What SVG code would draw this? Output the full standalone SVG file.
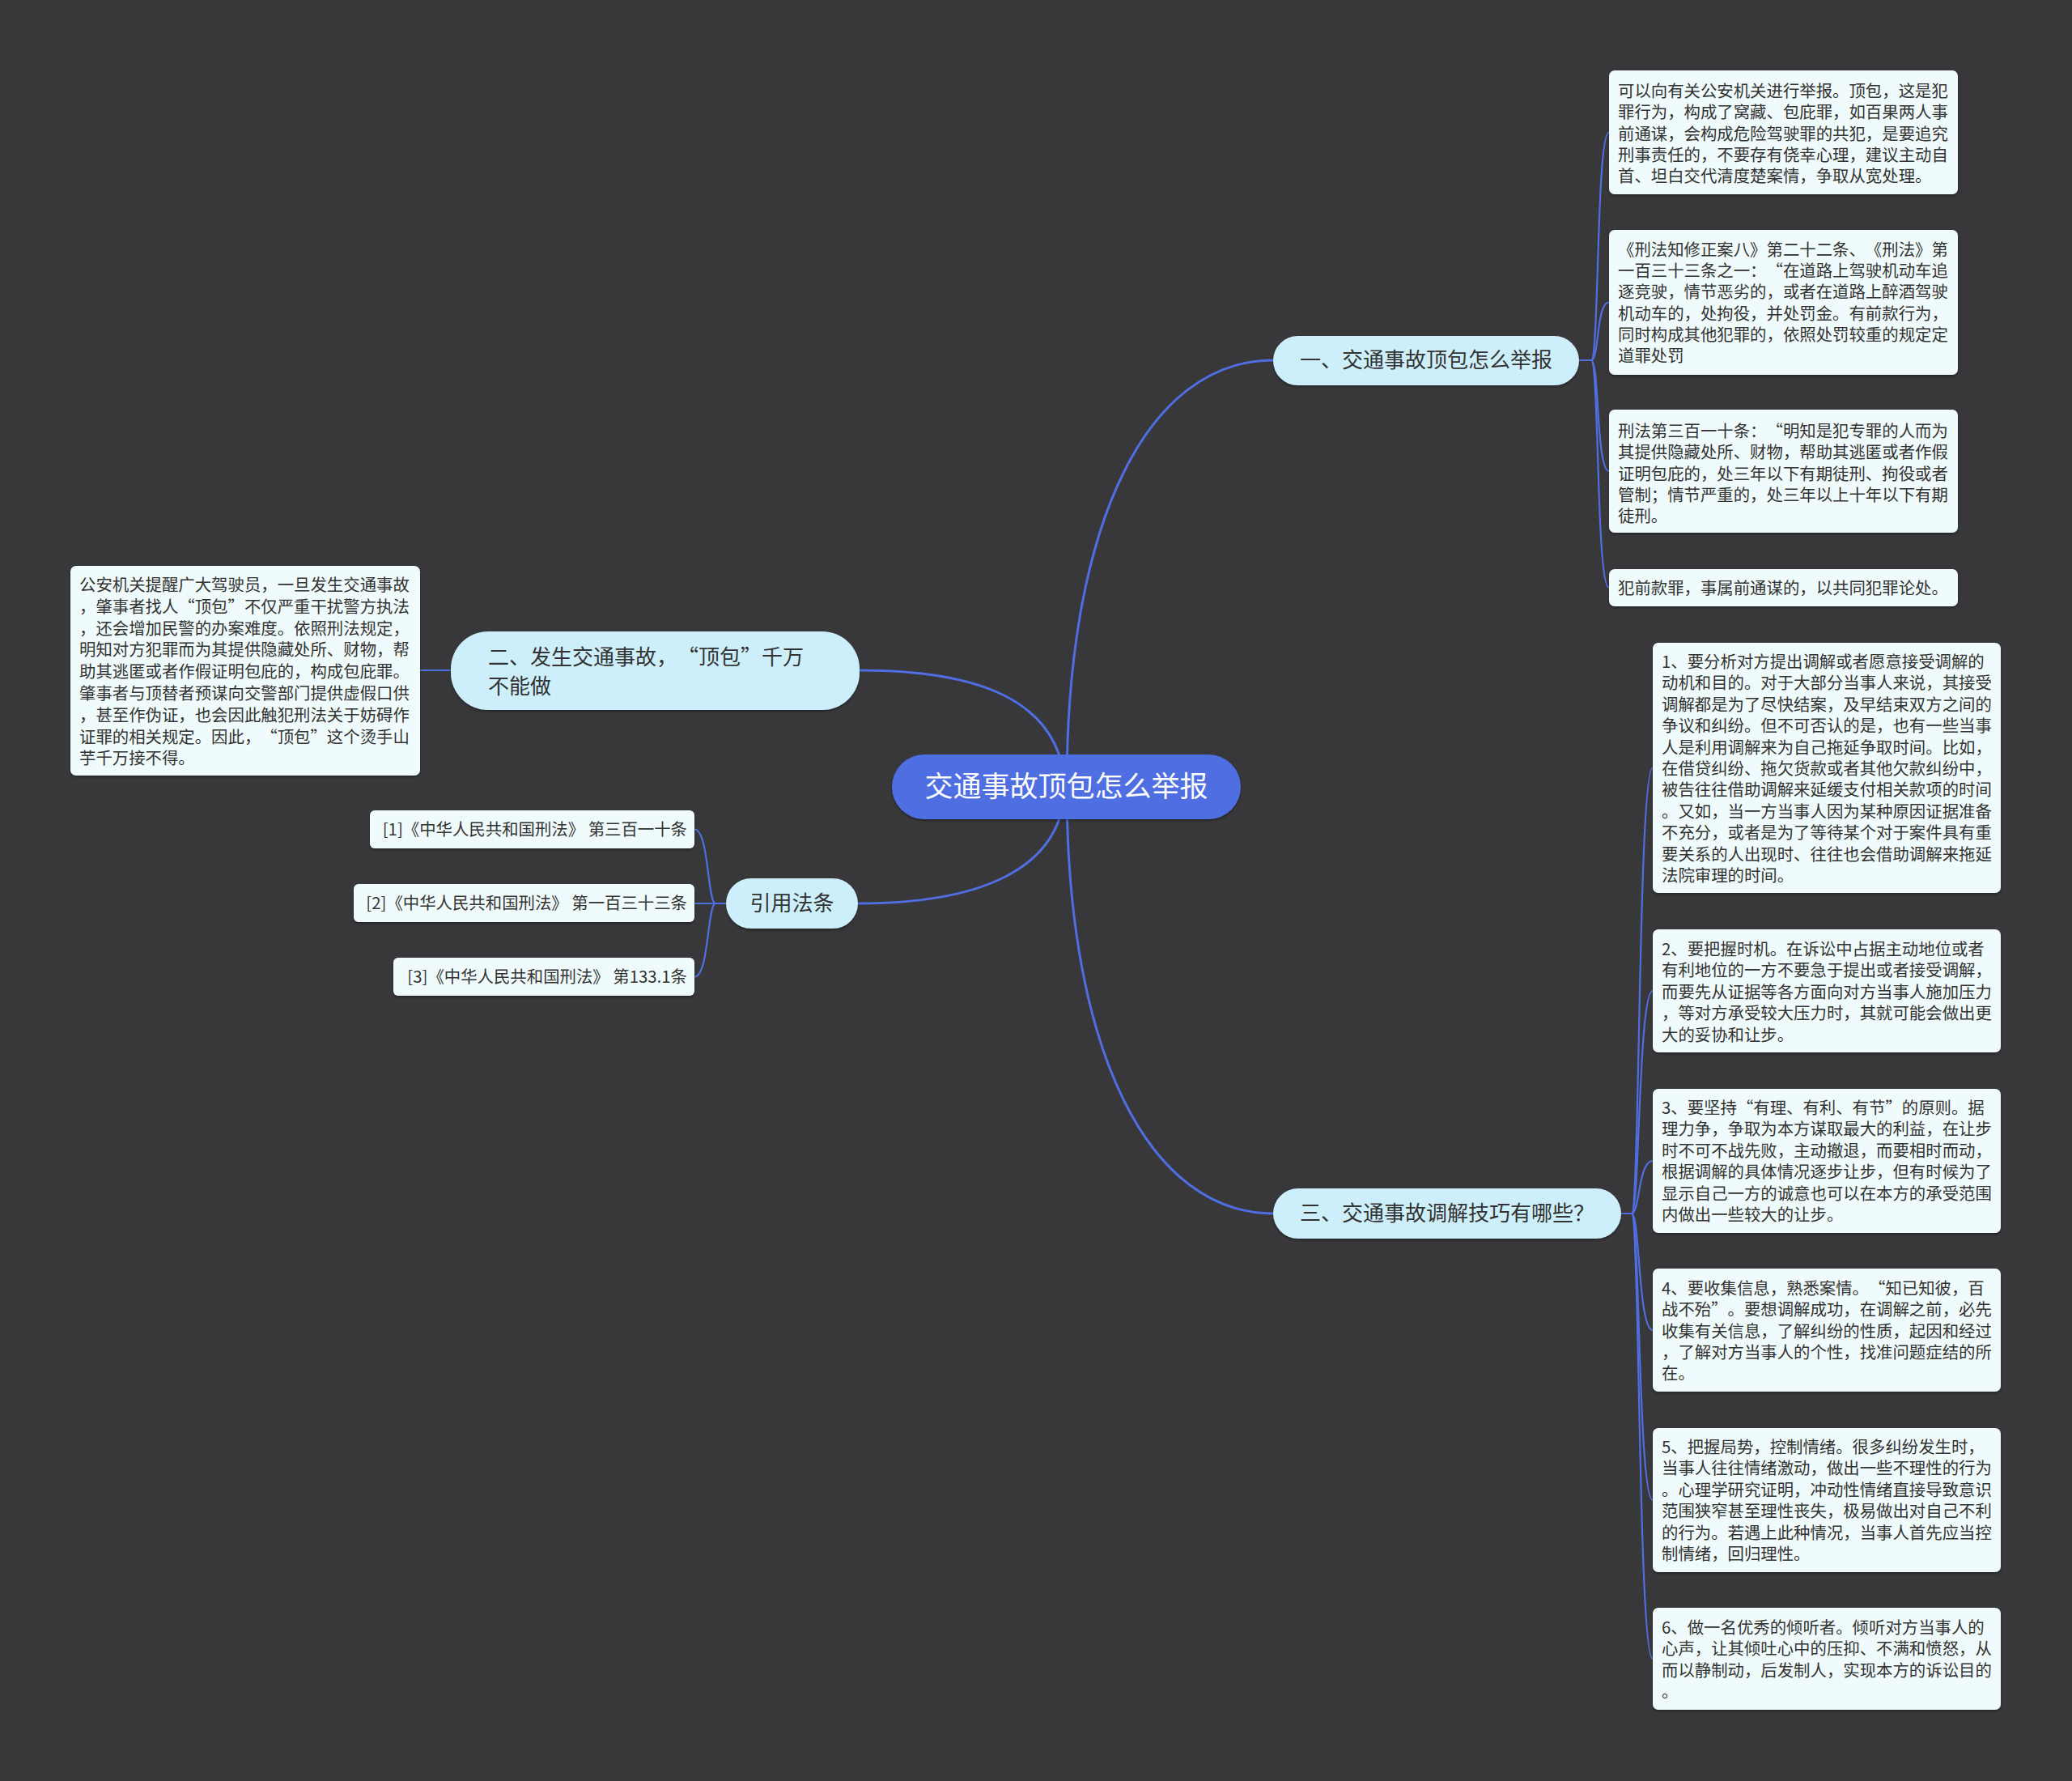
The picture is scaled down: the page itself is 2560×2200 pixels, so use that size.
<svg xmlns="http://www.w3.org/2000/svg" width="2560" height="2200" viewBox="0 0 2560 2200">
<defs>
<style>
.bg{fill:#38373a}
.main{fill:#506ee1}
.pill{fill:#cdeffb}
.box{fill:#f0fbfd}
.ln{fill:none;stroke:#506ee1;stroke-width:3;stroke-linecap:round}
.sl{fill:none;stroke:#506ee1;stroke-width:2.2;stroke-linecap:round}
text{font-family:"Noto Sans CJK SC","Noto Sans",sans-serif;text-spacing-trim:space-all}
.t{font-size:20.4px;fill:#333333}
.b{font-size:26px;fill:#333333}
.c{font-size:35px;fill:#ffffff}
</style>
<filter id="sh" x="-5%" y="-5%" width="110%" height="120%">
<feDropShadow dx="0" dy="2" stdDeviation="1.5" flood-color="#000000" flood-opacity="0.35"/>
</filter>
</defs>
<rect class="bg" x="0" y="0" width="2560" height="2200"/>

<g id="connectors">
<path class="ln" d="M1318 972 C1318 640,1420 445,1573 445"/>
<path class="ln" d="M1318 972 C1318 1300,1420 1499,1573 1499"/>
<path class="ln" d="M1316 972 C1310 860,1200 828,1062 828"/>
<path class="ln" d="M1316 972 C1312 1080,1200 1116,1060 1116"/>
<path class="sl" d="M519 828 H557"/>
<path class="sl" d="M1951 445 H1966 C1976 445,1972 163.5,1988 163.5"/>
<path class="sl" d="M1951 445 H1966 C1976 445,1972 373.5,1988 373.5"/>
<path class="sl" d="M1951 445 H1966 C1976 445,1972 582,1988 582"/>
<path class="sl" d="M1951 445 H1966 C1976 445,1972 726,1988 726"/>
<path class="sl" d="M2003 1499 H2016 C2026 1499,2024 948.5,2042 948.5"/>
<path class="sl" d="M2003 1499 H2016 C2026 1499,2024 1224,2042 1224"/>
<path class="sl" d="M2003 1499 H2016 C2026 1499,2024 1434,2042 1434"/>
<path class="sl" d="M2003 1499 H2016 C2026 1499,2024 1643,2042 1643"/>
<path class="sl" d="M2003 1499 H2016 C2026 1499,2024 1853,2042 1853"/>
<path class="sl" d="M2003 1499 H2016 C2026 1499,2024 2049,2042 2049"/>
<path class="sl" d="M897 1116 H884 C874 1116,876 1024.5,858 1024.5"/>
<path class="sl" d="M897 1116 H858"/>
<path class="sl" d="M897 1116 H884 C874 1116,876 1206.5,858 1206.5"/>
</g>

<g id="root">
<rect class="main" x="1102" y="932" width="431" height="80" rx="40" filter="url(#sh)"/>
<text class="c" x="1317.5" y="984" text-anchor="middle">交通事故顶包怎么举报</text>
</g>

<g id="branch1">
<rect class="pill" x="1573" y="415" width="378" height="61" rx="30.5" filter="url(#sh)"/>
<text class="b" x="1762" y="454" text-anchor="middle">一、交通事故顶包怎么举报</text>
</g>

<g id="branch2">
<rect class="pill" x="557" y="780" width="505" height="97" rx="46" filter="url(#sh)"/>
<text class="b" x="603" y="821">二、发生交通事故，“顶包”千万<tspan x="603" dy="36">不能做</tspan></text>
</g>

<g id="branch3">
<rect class="pill" x="1573" y="1468" width="430" height="62" rx="31" filter="url(#sh)"/>
<text class="b" x="1788" y="1508" text-anchor="middle">三、交通事故调解技巧有哪些？</text>
</g>

<g id="branch4">
<rect class="pill" x="897" y="1085" width="163" height="62" rx="31" filter="url(#sh)"/>
<text class="b" x="978.5" y="1125" text-anchor="middle">引用法条</text>
</g>

<g id="leftnote">
<rect class="box" x="87" y="699" width="432" height="259" rx="7" filter="url(#sh)"/>
<text class="t" x="98" y="730"><tspan x="98">公安机关提醒广大驾驶员，一旦发生交通事故</tspan><tspan x="98" dy="26.8">，肇事者找人“顶包”不仅严重干扰警方执法</tspan><tspan x="98" dy="26.8">，还会增加民警的办案难度。依照刑法规定，</tspan><tspan x="98" dy="26.8">明知对方犯罪而为其提供隐藏处所、财物，帮</tspan><tspan x="98" dy="26.8">助其逃匿或者作假证明包庇的，构成包庇罪。</tspan><tspan x="98" dy="26.8">肇事者与顶替者预谋向交警部门提供虚假口供</tspan><tspan x="98" dy="26.8">，甚至作伪证，也会因此触犯刑法关于妨碍作</tspan><tspan x="98" dy="26.8">证罪的相关规定。因此，“顶包”这个烫手山</tspan><tspan x="98" dy="26.8">芋千万接不得。</tspan></text>
</g>

<g id="ref1">
<rect class="box" x="457" y="1001" width="401" height="47" rx="6" filter="url(#sh)"/>
<text class="t" x="849" y="1032" text-anchor="end">[1]《中华人民共和国刑法》 第三百一十条</text>
</g>
<g id="ref2">
<rect class="box" x="437" y="1092" width="421" height="47" rx="6" filter="url(#sh)"/>
<text class="t" x="849" y="1123" text-anchor="end">[2]《中华人民共和国刑法》 第一百三十三条</text>
</g>
<g id="ref3">
<rect class="box" x="486" y="1183" width="372" height="47" rx="6" filter="url(#sh)"/>
<text class="t" x="849" y="1214" text-anchor="end">[3]《中华人民共和国刑法》 第133.1条</text>
</g>

<g id="noteA">
<rect class="box" x="1988" y="87" width="431" height="153" rx="7" filter="url(#sh)"/>
<text class="t" x="1999" y="120"><tspan x="1999">可以向有关公安机关进行举报。顶包，这是犯</tspan><tspan x="1999" dy="26.3">罪行为，构成了窝藏、包庇罪，如百果两人事</tspan><tspan x="1999" dy="26.3">前通谋，会构成危险驾驶罪的共犯，是要追究</tspan><tspan x="1999" dy="26.3">刑事责任的，不要存有侥幸心理，建议主动自</tspan><tspan x="1999" dy="26.3">首、坦白交代清度楚案情，争取从宽处理。</tspan></text>
</g>

<g id="noteB">
<rect class="box" x="1988" y="284" width="431" height="179" rx="7" filter="url(#sh)"/>
<text class="t" x="1999" y="316"><tspan x="1999">《刑法知修正案八》第二十二条、《刑法》第</tspan><tspan x="1999" dy="26.2">一百三十三条之一：“在道路上驾驶机动车追</tspan><tspan x="1999" dy="26.2">逐竞驶，情节恶劣的，或者在道路上醉酒驾驶</tspan><tspan x="1999" dy="26.2">机动车的，处拘役，并处罚金。有前款行为，</tspan><tspan x="1999" dy="26.2">同时构成其他犯罪的，依照处罚较重的规定定</tspan><tspan x="1999" dy="26.2">道罪处罚</tspan></text>
</g>

<g id="noteC">
<rect class="box" x="1988" y="506" width="431" height="152" rx="7" filter="url(#sh)"/>
<text class="t" x="1999" y="540"><tspan x="1999">刑法第三百一十条：“明知是犯专罪的人而为</tspan><tspan x="1999" dy="26.3">其提供隐藏处所、财物，帮助其逃匿或者作假</tspan><tspan x="1999" dy="26.3">证明包庇的，处三年以下有期徒刑、拘役或者</tspan><tspan x="1999" dy="26.3">管制；情节严重的，处三年以上十年以下有期</tspan><tspan x="1999" dy="26.3">徒刑。</tspan></text>
</g>

<g id="noteD">
<rect class="box" x="1988" y="703" width="431" height="46" rx="7" filter="url(#sh)"/>
<text class="t" x="1999" y="734">犯前款罪，事属前通谋的，以共同犯罪论处。</text>
</g>

<g id="tip1">
<rect class="box" x="2042" y="794" width="430" height="309" rx="7" filter="url(#sh)"/>
<text class="t" x="2053" y="825"><tspan x="2053">1、要分析对方提出调解或者愿意接受调解的</tspan><tspan x="2053" dy="26.4">动机和目的。对于大部分当事人来说，其接受</tspan><tspan x="2053" dy="26.4">调解都是为了尽快结案，及早结束双方之间的</tspan><tspan x="2053" dy="26.4">争议和纠纷。但不可否认的是，也有一些当事</tspan><tspan x="2053" dy="26.4">人是利用调解来为自己拖延争取时间。比如，</tspan><tspan x="2053" dy="26.4">在借贷纠纷、拖欠货款或者其他欠款纠纷中，</tspan><tspan x="2053" dy="26.4">被告往往借助调解来延缓支付相关款项的时间</tspan><tspan x="2053" dy="26.4">。又如，当一方当事人因为某种原因证据准备</tspan><tspan x="2053" dy="26.4">不充分，或者是为了等待某个对于案件具有重</tspan><tspan x="2053" dy="26.4">要关系的人出现时、往往也会借助调解来拖延</tspan><tspan x="2053" dy="26.4">法院审理的时间。</tspan></text>
</g>

<g id="tip2">
<rect class="box" x="2042" y="1148" width="430" height="152" rx="7" filter="url(#sh)"/>
<text class="t" x="2053" y="1180"><tspan x="2053">2、要把握时机。在诉讼中占据主动地位或者</tspan><tspan x="2053" dy="26.4">有利地位的一方不要急于提出或者接受调解，</tspan><tspan x="2053" dy="26.4">而要先从证据等各方面向对方当事人施加压力</tspan><tspan x="2053" dy="26.4">，等对方承受较大压力时，其就可能会做出更</tspan><tspan x="2053" dy="26.4">大的妥协和让步。</tspan></text>
</g>

<g id="tip3">
<rect class="box" x="2042" y="1345" width="430" height="178" rx="7" filter="url(#sh)"/>
<text class="t" x="2053" y="1376"><tspan x="2053">3、要坚持“有理、有利、有节”的原则。据</tspan><tspan x="2053" dy="26.4">理力争，争取为本方谋取最大的利益，在让步</tspan><tspan x="2053" dy="26.4">时不可不战先败，主动撤退，而要相时而动，</tspan><tspan x="2053" dy="26.4">根据调解的具体情况逐步让步，但有时候为了</tspan><tspan x="2053" dy="26.4">显示自己一方的诚意也可以在本方的承受范围</tspan><tspan x="2053" dy="26.4">内做出一些较大的让步。</tspan></text>
</g>

<g id="tip4">
<rect class="box" x="2042" y="1567" width="430" height="152" rx="7" filter="url(#sh)"/>
<text class="t" x="2053" y="1599"><tspan x="2053">4、要收集信息，熟悉案情。“知已知彼，百</tspan><tspan x="2053" dy="26.3">战不殆”。要想调解成功，在调解之前，必先</tspan><tspan x="2053" dy="26.3">收集有关信息，了解纠纷的性质，起因和经过</tspan><tspan x="2053" dy="26.3">，了解对方当事人的个性，找准问题症结的所</tspan><tspan x="2053" dy="26.3">在。</tspan></text>
</g>

<g id="tip5">
<rect class="box" x="2042" y="1764" width="430" height="178" rx="7" filter="url(#sh)"/>
<text class="t" x="2053" y="1795"><tspan x="2053">5、把握局势，控制情绪。很多纠纷发生时，</tspan><tspan x="2053" dy="26.4">当事人往往情绪激动，做出一些不理性的行为</tspan><tspan x="2053" dy="26.4">。心理学研究证明，冲动性情绪直接导致意识</tspan><tspan x="2053" dy="26.4">范围狭窄甚至理性丧失，极易做出对自己不利</tspan><tspan x="2053" dy="26.4">的行为。若遇上此种情况，当事人首先应当控</tspan><tspan x="2053" dy="26.4">制情绪，回归理性。</tspan></text>
</g>

<g id="tip6">
<rect class="box" x="2042" y="1986" width="430" height="126" rx="7" filter="url(#sh)"/>
<text class="t" x="2053" y="2018"><tspan x="2053">6、做一名优秀的倾听者。倾听对方当事人的</tspan><tspan x="2053" dy="26.4">心声，让其倾吐心中的压抑、不满和愤怒，从</tspan><tspan x="2053" dy="26.4">而以静制动，后发制人，实现本方的诉讼目的</tspan><tspan x="2053" dy="26.4">。</tspan></text>
</g>
</svg>
